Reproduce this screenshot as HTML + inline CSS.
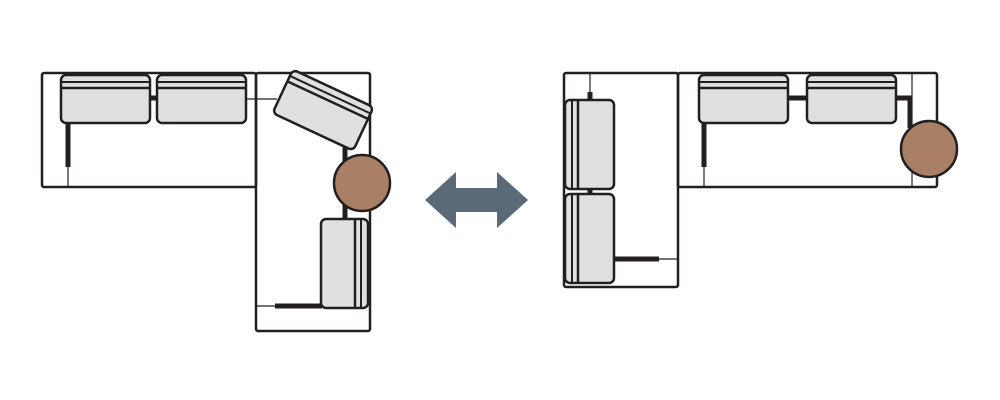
<!DOCTYPE html>
<html><head><style>html,body{margin:0;padding:0;background:#fff;width:1000px;height:400px;overflow:hidden}</style></head>
<body>
<svg width="1000" height="400" viewBox="0 0 1000 400" xmlns="http://www.w3.org/2000/svg">
<defs>
<g id="seatH">
  <rect x="0" y="0" width="89" height="48" rx="5" fill="#e0e0e0" stroke="#231f20" stroke-width="2.5"/>
  <line x1="1" y1="7" x2="88" y2="7" stroke="#231f20" stroke-width="2"/>
  <line x1="1" y1="13" x2="88" y2="13" stroke="#231f20" stroke-width="2.5"/>
</g>
</defs>
<g fill="none" stroke="#231f20" stroke-width="2.5" stroke-linejoin="round">
  <!-- left figure -->
  <rect x="42" y="73" width="214" height="114" rx="2"/>
  <rect x="256" y="73" width="114" height="258" rx="2"/>
  <!-- right figure -->
  <rect x="564" y="73" width="114" height="214" rx="2"/>
  <rect x="678" y="73" width="259" height="114" rx="2"/>
</g>
<!-- left figure details -->
<line x1="68" y1="123" x2="68" y2="167" stroke="#231f20" stroke-width="5"/>
<line x1="68" y1="167" x2="68" y2="187" stroke="#231f20" stroke-width="1.2"/>
<line x1="148" y1="98" x2="158" y2="98" stroke="#231f20" stroke-width="5"/>
<line x1="246" y1="99" x2="277" y2="99" stroke="#231f20" stroke-width="1.2"/>
<use href="#seatH" x="61" y="75"/>
<use href="#seatH" x="157" y="75"/>
<line x1="345" y1="140" x2="345" y2="220" stroke="#231f20" stroke-width="5"/>
<g transform="translate(323,109) rotate(25)">
  <use href="#seatH" x="-44" y="-23"/>
</g>
<circle cx="362" cy="183" r="28" fill="#a97f66" stroke="#231f20" stroke-width="2.5"/>
<line x1="256" y1="306" x2="275" y2="306" stroke="#231f20" stroke-width="1.2"/>
<line x1="275" y1="306" x2="322" y2="306" stroke="#231f20" stroke-width="5"/>
<g transform="translate(321,219)">
  <rect x="0" y="0" width="47" height="89" rx="5" fill="#e0e0e0" stroke="#231f20" stroke-width="2.5"/>
  <line x1="34" y1="1" x2="34" y2="88" stroke="#231f20" stroke-width="2.5"/>
  <line x1="40" y1="1" x2="40" y2="88" stroke="#231f20" stroke-width="2"/>
</g>
<!-- arrow -->
<polygon points="425,200 456,172 456,188 497,188 497,172 528,200 497,228 497,212 456,212 456,228" fill="#5a6a78"/>
<!-- right figure details -->
<line x1="590" y1="73" x2="590" y2="92" stroke="#231f20" stroke-width="1.2"/>
<line x1="590" y1="92" x2="590" y2="102" stroke="#231f20" stroke-width="5"/>
<line x1="590" y1="188" x2="590" y2="196" stroke="#231f20" stroke-width="5"/>
<line x1="612" y1="259" x2="659" y2="259" stroke="#231f20" stroke-width="5"/>
<line x1="659" y1="259" x2="678" y2="259" stroke="#231f20" stroke-width="1.2"/>
<g transform="translate(565,100)">
  <rect x="0" y="0" width="49" height="89" rx="5" fill="#e0e0e0" stroke="#231f20" stroke-width="2.5"/>
  <line x1="7" y1="1" x2="7" y2="88" stroke="#231f20" stroke-width="2"/>
  <line x1="13" y1="1" x2="13" y2="88" stroke="#231f20" stroke-width="2.5"/>
</g>
<g transform="translate(565,194)">
  <rect x="0" y="0" width="49" height="89" rx="5" fill="#e0e0e0" stroke="#231f20" stroke-width="2.5"/>
  <line x1="7" y1="1" x2="7" y2="88" stroke="#231f20" stroke-width="2"/>
  <line x1="13" y1="1" x2="13" y2="88" stroke="#231f20" stroke-width="2.5"/>
</g>
<line x1="704" y1="123" x2="704" y2="167" stroke="#231f20" stroke-width="5"/>
<line x1="704" y1="167" x2="704" y2="187" stroke="#231f20" stroke-width="1.2"/>
<line x1="788" y1="98" x2="808" y2="98" stroke="#231f20" stroke-width="5"/>
<line x1="912" y1="73" x2="912" y2="187" stroke="#231f20" stroke-width="1.2"/>
<polyline points="895,98 910,98 910,128" fill="none" stroke="#231f20" stroke-width="5"/>
<use href="#seatH" x="699" y="75"/>
<use href="#seatH" x="807" y="75"/>
<circle cx="929" cy="149" r="28" fill="#a97f66" stroke="#231f20" stroke-width="2.5"/>
</svg>
</body></html>
